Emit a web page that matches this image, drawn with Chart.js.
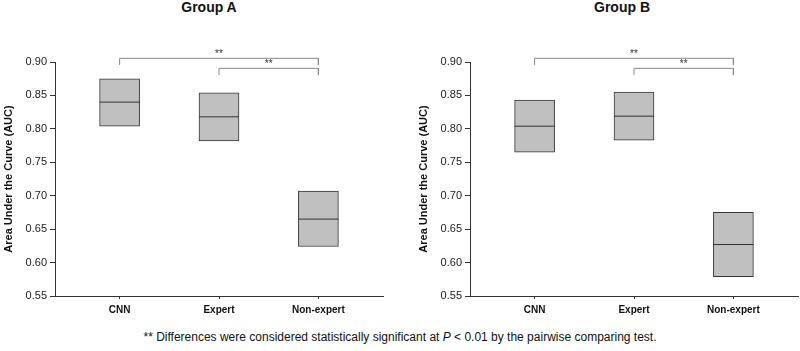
<!DOCTYPE html>
<html>
<head>
<meta charset="utf-8">
<script src="https://cdn.jsdelivr.net/npm/chart.js@4/dist/chart.umd.min.js"></script>
<style>
  body { margin: 0; background: #fff; font-family: Arial, "Liberation Sans", sans-serif; }
  #wrap { position: relative; width: 800px; height: 351px; overflow: hidden; }
  canvas { position: absolute; top: 0; }
  .title { position: absolute; top: 0; font-weight: bold; font-size: 14px; line-height: 14px; color: #111; transform: translateX(-50%); white-space: nowrap; }
  #note { position: absolute; top: 330px; left: 0; width: 800px; text-align: center; font-size: 12px; line-height: 14px; color: #111; }
</style>
</head>
<body>
<div id="wrap">
  <div class="title" style="left:209px">Group A</div>
  <div class="title" style="left:622px">Group B</div>
  <canvas id="chartA" width="385" height="320" style="left:0"></canvas>
  <canvas id="chartB" width="385" height="320" style="left:415px"></canvas>
  <div id="note">** Differences were considered statistically significant at <i>P</i> &lt; 0.01 by the pairwise comparing test.</div>
</div>
<script>
/* AUC ranges per reader type */
const categories = ['CNN', 'Expert', 'Non-expert'];

const groupALow = [0.804, 0.782, 0.624];
const groupAHigh = [0.875, 0.854, 0.707];
const groupAMedian = [0.840, 0.818, 0.665];

const groupBLow = [0.765, 0.783, 0.579];
const groupBHigh = [0.843, 0.855, 0.675];
const groupBMedian = [0.804, 0.819, 0.627];

const yTickValues = [0.55, 0.60, 0.65, 0.70, 0.75, 0.80, 0.85, 0.90];

// significance brackets: category pairs, bracket height, end height
const bracketPairs = [[0, 2], [1, 2]];
const bracketLevels = [0.9055, 0.8905];
const bracketEnds = [0.8955, 0.8805];
const bracketLabels = ['**', '**'];

const AXIS = '#333';
const FONT = 'Arial, "Liberation Sans", sans-serif';

const starsPlugin = {
  id: 'stars',
  afterDatasetsDraw(chart) {
    const ctx = chart.ctx;
    const x = chart.scales.x, y = chart.scales.y;
    ctx.save();
    ctx.fillStyle = '#333';
    ctx.font = '10px ' + FONT;
    ctx.textAlign = 'center';
    ctx.textBaseline = 'alphabetic';
    bracketPairs.forEach((p, i) => {
      const mid = (x.getPixelForValue(p[0]) + x.getPixelForValue(p[1])) / 2;
      ctx.fillText(bracketLabels[i], mid, y.getPixelForValue(bracketLevels[i]) - 1);
    });
    ctx.restore();
  }
};

function makeChart(id, low, high, median) {
  const datasets = [
    {
      type: 'bar',
      data: categories.map((c, i) => ({ x: i, y: [low[i], high[i]] })),
      backgroundColor: '#c0c0c0',
      borderColor: AXIS,
      borderWidth: 1,
      borderSkipped: false,
      barThickness: 40,
      order: 3
    },
    {
      type: 'scatter',
      data: categories.map((c, i) => ({ x: i, y: median[i] })),
      pointStyle: 'line',
      radius: 20,
      borderColor: AXIS,
      borderWidth: 1,
      order: 1
    }
  ];
  bracketPairs.forEach((p, i) => {
    datasets.push({
      type: 'line',
      data: [
        { x: p[0], y: bracketEnds[i] },
        { x: p[0], y: bracketLevels[i] },
        { x: p[1], y: bracketLevels[i] },
        { x: p[1], y: bracketEnds[i] }
      ],
      borderColor: '#8a8a8a',
      borderWidth: 1,
      pointRadius: 0,
      tension: 0,
      fill: false,
      clip: false,
      order: 2
    });
  });

  return new Chart(document.getElementById(id), {
    type: 'bar',
    data: { datasets },
    options: {
      responsive: false,
      animation: false,
      events: [],
      layout: { autoPadding: false, padding: { top: 62, right: 2, left: 0, bottom: 0 } },
      plugins: { legend: { display: false }, tooltip: { enabled: false } },
      scales: {
        x: {
          type: 'linear',
          min: -0.65,
          max: 2.65,
          offset: false,
          afterBuildTicks: s => { s.ticks = categories.map((c, i) => ({ value: i })); },
          afterFit: s => { s.height = 24; s.paddingLeft = 0; s.paddingRight = 0; },
          grid: { offset: false, drawOnChartArea: false, tickLength: 3, color: AXIS },
          border: { color: AXIS },
          ticks: {
            padding: 5,
            color: '#111',
            font: { family: FONT, size: 10, weight: 'bold' },
            callback: v => categories[v]
          }
        },
        y: {
          min: 0.55,
          max: 0.90,
          afterBuildTicks: s => { s.ticks = yTickValues.map(v => ({ value: v })); },
          afterFit: s => { s.width = 55; s.paddingTop = 0; s.paddingBottom = 0; },
          grid: { drawOnChartArea: false, tickLength: 5, color: AXIS },
          border: { color: AXIS },
          ticks: {
            padding: 3,
            color: '#222',
            font: { family: FONT, size: 11 },
            callback: v => v.toFixed(2)
          },
          title: {
            display: true,
            text: 'Area Under the Curve (AUC)',
            color: '#111',
            padding: { top: 2, bottom: 0 },
            font: { family: FONT, size: 11, weight: 'bold' }
          }
        }
      }
    },
    plugins: [starsPlugin]
  });
}

makeChart('chartA', groupALow, groupAHigh, groupAMedian);
makeChart('chartB', groupBLow, groupBHigh, groupBMedian);
</script>
</body>
</html>
